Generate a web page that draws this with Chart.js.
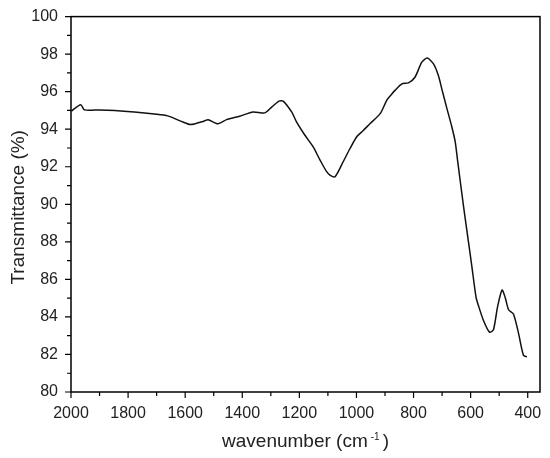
<!DOCTYPE html>
<html>
<head>
<meta charset="utf-8">
<script src="https://cdn.jsdelivr.net/npm/chart.js@4/dist/chart.umd.min.js"></script>
<style>
html,body{margin:0;padding:0;background:#fff;}
#wrap{width:550px;height:458px;position:relative;}
</style>
</head>
<body>
<div id="wrap"><canvas id="c"></canvas></div>
<script>
// FTIR spectrum
const wavenumber = [1998,1966,1953,1900,1847,1778,1708,1661,1616,1581,1533,1520,1485,1455,1409,1362,1321,1296,1271,1257,1227,1210,1181,1152,1128,1105,1093,1075,1046,1023,999,977,953,917,894,882,865,841,818,795,771,752,730,713,701,683,666,654,646,625,608,596,581,573,555,534,520,506,490,479,467,450,432,415,403];
const transmittance = [94.97,95.31,95.03,95.03,95.00,94.92,94.81,94.71,94.43,94.25,94.44,94.51,94.29,94.51,94.69,94.92,94.87,95.19,95.50,95.50,94.92,94.39,93.69,93.07,92.37,91.75,91.56,91.47,92.28,92.96,93.60,93.92,94.29,94.83,95.54,95.77,96.07,96.42,96.47,96.77,97.57,97.79,97.48,96.86,96.15,95.10,94.13,93.33,92.37,89.90,88.04,86.72,85.04,84.62,83.81,83.19,83.32,84.51,85.43,85.04,84.38,84.16,83.11,81.96,81.87];
const xTicks = [2000,1800,1600,1400,1200,1000,800,600,400];
const xMinorTicks = [1900,1700,1500,1300,1100,900,700,500];
const yTicks = [80,82,84,86,88,90,92,94,96,98,100];
const yMinorTicks = [81,83,85,87,89,91,93,95,97,99];
const xTitle = ["wavenumber (cm", "-1", ")"];
const yTitle = "Transmittance (%)";

const FONT = "'Liberation Sans', Arial, sans-serif";

const framePlugin = {
  id: 'frame',
  afterDraw(chart) {
    const ctx = chart.ctx;
    const a = chart.chartArea;
    const xs = chart.scales.x, ys = chart.scales.y;
    ctx.save();
    ctx.strokeStyle = '#000';
    ctx.lineWidth = 1.5;
    ctx.strokeRect(a.left, a.top, a.right - a.left, a.bottom - a.top);
    ctx.lineWidth = 1.2;
    ctx.beginPath();
    xTicks.forEach(v => { const p = xs.getPixelForValue(v); ctx.moveTo(p, a.bottom); ctx.lineTo(p, a.bottom + 6); });
    xMinorTicks.forEach(v => { const p = xs.getPixelForValue(v); ctx.moveTo(p, a.bottom); ctx.lineTo(p, a.bottom + 4); });
    yTicks.forEach(v => { const p = ys.getPixelForValue(v); ctx.moveTo(a.left, p); ctx.lineTo(a.left - 6, p); });
    yMinorTicks.forEach(v => { const p = ys.getPixelForValue(v); ctx.moveTo(a.left, p); ctx.lineTo(a.left - 4, p); });
    ctx.stroke();

    // axis titles
    ctx.fillStyle = '#222';
    ctx.font = '19px ' + FONT;
    ctx.textBaseline = 'alphabetic';
    const w1 = ctx.measureText(xTitle[0]).width;
    ctx.font = '10px ' + FONT;
    const w2 = ctx.measureText(xTitle[1]).width;
    ctx.font = '19px ' + FONT;
    const w3 = ctx.measureText(xTitle[2]).width;
    const gapA = 3, gapB = 3;
    const total = w1 + gapA + w2 + gapB + w3;
    let x0 = (a.left + a.right) / 2 - total / 2;
    const by = 447;
    ctx.textAlign = 'left';
    ctx.fillText(xTitle[0], x0, by);
    ctx.font = '10px ' + FONT;
    ctx.fillText(xTitle[1], x0 + w1 + gapA, by - 7);
    ctx.font = '19px ' + FONT;
    ctx.fillText(xTitle[2], x0 + w1 + gapA + w2 + gapB, by);

    ctx.translate(24, (a.top + a.bottom) / 2 + 3);
    ctx.rotate(-Math.PI / 2);
    ctx.textAlign = 'center';
    ctx.fillText(yTitle, 0, 0);
    ctx.restore();
  }
};

const points = wavenumber.map((w, i) => ({ x: w, y: transmittance[i] }));

new Chart(document.getElementById('c'), {
  type: 'line',
  data: {
    datasets: [{
      data: points,
      borderColor: '#111',
      borderWidth: 1.5,
      pointRadius: 0,
      tension: 0.25,
      fill: false
    }]
  },
  options: {
    responsive: true,
    maintainAspectRatio: false,
    animation: false,
    layout: { padding: { top: 14, right: 10, left: 0, bottom: 0 } },
    plugins: { legend: { display: false }, tooltip: { enabled: false }, title: { display: false } },
    scales: {
      x: {
        type: 'linear',
        reverse: true,
        min: 357,
        max: 2000,
        afterBuildTicks: s => { s.ticks = xTicks.map(v => ({ value: v })); },
        afterFit: s => { s.height = 66; },
        grid: { display: true, drawOnChartArea: false, drawTicks: true, tickLength: 6, color: 'rgba(0,0,0,0)' },
        border: { display: false },
        ticks: { color: '#222', font: { family: FONT, size: 16 }, padding: 6, maxRotation: 0, autoSkip: false, callback: v => String(v) },
        title: { display: false }
      },
      y: {
        type: 'linear',
        min: 80,
        max: 100,
        afterBuildTicks: s => { s.ticks = yTicks.map(v => ({ value: v })); },
        afterFit: s => { s.width = 71; },
        grid: { display: true, drawOnChartArea: false, drawTicks: true, tickLength: 6, color: 'rgba(0,0,0,0)' },
        border: { display: false },
        ticks: { color: '#222', font: { family: FONT, size: 16 }, padding: 7, autoSkip: false, callback: v => String(v) },
        title: { display: false }
      }
    }
  },
  plugins: [framePlugin]
});
</script>
</body>
</html>
